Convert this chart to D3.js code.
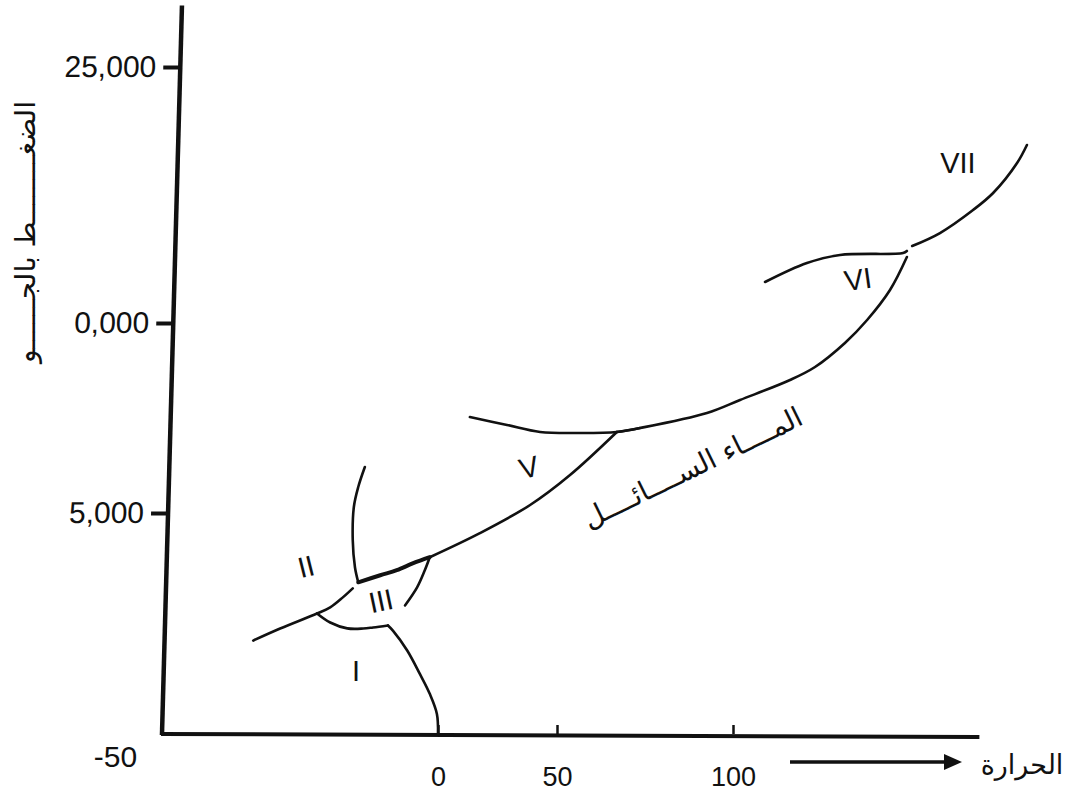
<!DOCTYPE html>
<html>
<head>
<meta charset="utf-8">
<script src="https://cdn.jsdelivr.net/npm/d3@7"></script>
<style>
  body { margin: 0; background: #fff; }
  svg { display: block; }
</style>
</head>
<body>
<svg id="phase"></svg>
<script>
// axis ticks as printed in the figure
const tempTicks = [-50, 0, 50, 100];
const tempTickLabels = ["-50", "0", "50", "100"];
const pressTicks = [5000, 10000, 25000];
const pressTickLabels = ["5,000", "0,000", "25,000"];

// phase boundaries, each point is [temperature, pressure]
const iceI_liquid = [[0, 0], [-0.2, 455], [-1.5, 910], [-3.3, 1360], [-5.6, 1890], [-8.2, 2340], [-9.1, 2455]];
const iceI_iceIII = [[-9.1, 2455], [-11.8, 2410], [-13.6, 2386], [-16.5, 2390], [-19.6, 2523], [-22.0, 2727]];
const iceI_iceII = [[-33.6, 2114], [-28.7, 2386], [-22.0, 2727], [-19.6, 2864], [-17.3, 3091], [-15.5, 3295]];
const iceII_iceIII = [[-14.5, 3432], [-10.5, 3591], [-7.5, 3705], [-4.5, 3864], [-1.5, 4000]];
const iceIII_liquid = [[-1.5, 4000], [-2.4, 3705], [-3.8, 3318], [-6.0, 2909]];
const iceII_iceV = [[-14.5, 3432], [-15.1, 3773], [-15.5, 4386], [-15.3, 5158], [-14.5, 5684], [-13.3, 6210]];
const iceV_liquid = [[-1.5, 4000], [17.6, 4545], [38.7, 5211], [53.7, 6000], [67.0, 7132]];
const iceV_iceVI = [[13.4, 7526], [29.0, 7316], [42.9, 7132], [56.5, 7105], [67.0, 7132], [73.6, 7237]];
const iceVI_liquid = [[67.0, 7132], [73.6, 7237], [92.6, 7632], [102.0, 7974], [116.2, 8500], [123.3, 8842], [131.8, 9474], [138.1, 10176], [144.6, 11934], [149.4, 13867]];
const iceVI_upper = [[109.1, 12402], [121.0, 13516], [130.4, 13984], [148.3, 14102], [149.4, 14219]];
const iceVII_liquid = [[150.9, 14512], [158.8, 15273], [168.2, 16621], [173.9, 17617], [180.7, 19375], [183.5, 20430]];

// region names and where they sit [temperature, pressure, tilt]
const phaseNames = ["I", "II", "III", "V", "VI", "VII"];
const phaseSpots = [[-14.9, 1430, 0], [-24.0, 3795, -14], [-10.4, 3020, -12], [38.2, 6210, -14], [135.5, 12580, -8], [163.9, 19375, 0]];
const liquidName = "المــــاء الســــائــــل";
const liquidSpot = [88.5, 6200];
const tempTitle = "الحرارة";
const pressTitle = "الضغــــــــط بالجــــــو";

const width = 1076, height = 798;
const tempAxisEnd = 170, pressAxisEnd = 28600;

const svg = d3.select("#phase")
    .attr("width", width)
    .attr("height", height);

// the printed scales are not even, so both are piecewise linear
const x = d3.scaleLinear()
    .domain(tempTicks)
    .range([163, 438, 557, 733]);

const y = d3.scaleLinear()
    .domain([0].concat(pressTicks))
    .range([734, 513, 323, 67]);

// x axis
svg.append("line")
    .attr("x1", x(-50) - 2)
    .attr("x2", x(tempAxisEnd))
    .attr("y1", y(0))
    .attr("y2", y(0) + 3)
    .attr("stroke", "#111")
    .attr("stroke-width", 4);

const xAxis = svg.append("g")
    .attr("transform", `translate(0,${y(0)})`)
    .call(d3.axisBottom(x)
        .tickValues(tempTicks)
        .tickFormat((d, i) => tempTickLabels[i])
        .tickSize(-9)
        .tickPadding(33));
xAxis.select(".domain").remove();
xAxis.selectAll("line").attr("stroke", "#111").attr("stroke-width", 2.5);
xAxis.selectAll("text")
    .attr("fill", "#111")
    .style("font-family", "'Liberation Sans', Arial, sans-serif")
    .style("font-size", "27px");
xAxis.selectAll(".tick").filter(d => d === -50).each(function() {
    d3.select(this).select("line").remove();
    d3.select(this).select("text")
        .attr("x", -48)
        .attr("y", 12)
        .style("font-size", "30px");
});

// y axis, drawn leaning a little like the scan
const yAxis = svg.append("g")
    .attr("transform", `translate(162,${y(0)}) skewX(-1.57) translate(0,${-y(0)})`);
yAxis.append("line")
    .attr("x1", 0).attr("x2", 0)
    .attr("y1", y(0) + 1)
    .attr("y2", y(pressAxisEnd))
    .attr("stroke", "#111")
    .attr("stroke-width", 4.5);
yAxis.call(d3.axisLeft(y)
        .tickValues(pressTicks)
        .tickFormat((d, i) => pressTickLabels[i])
        .tickSize(17)
        .tickPadding(7));
yAxis.select(".domain").remove();
yAxis.selectAll(".tick line").attr("stroke", "#111").attr("stroke-width", 4);
yAxis.selectAll(".tick text")
    .attr("fill", "#111")
    .style("font-family", "'Liberation Sans', Arial, sans-serif")
    .style("font-size", "30px");

// axis titles
svg.append("text")
    .attr("transform", "translate(35,232) rotate(-90)")
    .attr("text-anchor", "middle")
    .style("font-family", "'DejaVu Sans', sans-serif")
    .style("font-size", "28px")
    .attr("fill", "#111")
    .text(pressTitle);

svg.append("line")
    .attr("x1", 790).attr("x2", 946)
    .attr("y1", 762).attr("y2", 762)
    .attr("stroke", "#111")
    .attr("stroke-width", 3.5);
svg.append("path")
    .attr("d", "M944,754 L962,762 L944,770 Z")
    .attr("fill", "#111");
svg.append("text")
    .attr("x", 1022)
    .attr("y", 774)
    .attr("text-anchor", "middle")
    .style("font-family", "'DejaVu Sans', sans-serif")
    .style("font-size", "27px")
    .attr("fill", "#111")
    .text(tempTitle);

// phase boundary curves
const line = d3.line()
    .x(d => x(d[0]))
    .y(d => y(d[1]))
    .curve(d3.curveCatmullRom);

const curves = [iceI_liquid, iceI_iceIII, iceI_iceII, iceIII_liquid, iceII_iceV,
    iceV_liquid, iceV_iceVI, iceVI_liquid, iceVI_upper, iceVII_liquid];

svg.selectAll(".boundary")
    .data(curves)
    .enter()
    .append("path")
    .attr("class", "boundary")
    .attr("d", line)
    .attr("fill", "none")
    .attr("stroke", "#111")
    .attr("stroke-width", 2.6)
    .attr("stroke-linecap", "round");

svg.append("path")
    .datum(iceII_iceIII)
    .attr("d", line)
    .attr("fill", "none")
    .attr("stroke", "#111")
    .attr("stroke-width", 4)
    .attr("stroke-linecap", "round");

// region labels
svg.selectAll(".phase")
    .data(phaseNames)
    .enter()
    .append("text")
    .attr("class", "phase")
    .attr("transform", (d, i) => `translate(${x(phaseSpots[i][0])},${y(phaseSpots[i][1])}) rotate(${phaseSpots[i][2]})`)
    .attr("text-anchor", "middle")
    .attr("dy", "0.36em")
    .style("font-family", "'Liberation Sans', Arial, sans-serif")
    .style("font-size", "29px")
    .attr("fill", "#111")
    .text(d => d);

svg.append("text")
    .attr("transform", `translate(${x(liquidSpot[0])},${y(liquidSpot[1])}) rotate(-26)`)
    .attr("text-anchor", "middle")
    .attr("dy", "0.35em")
    .style("font-family", "'DejaVu Sans', sans-serif")
    .style("font-size", "28px")
    .attr("fill", "#111")
    .text(liquidName);
</script>
</body>
</html>
